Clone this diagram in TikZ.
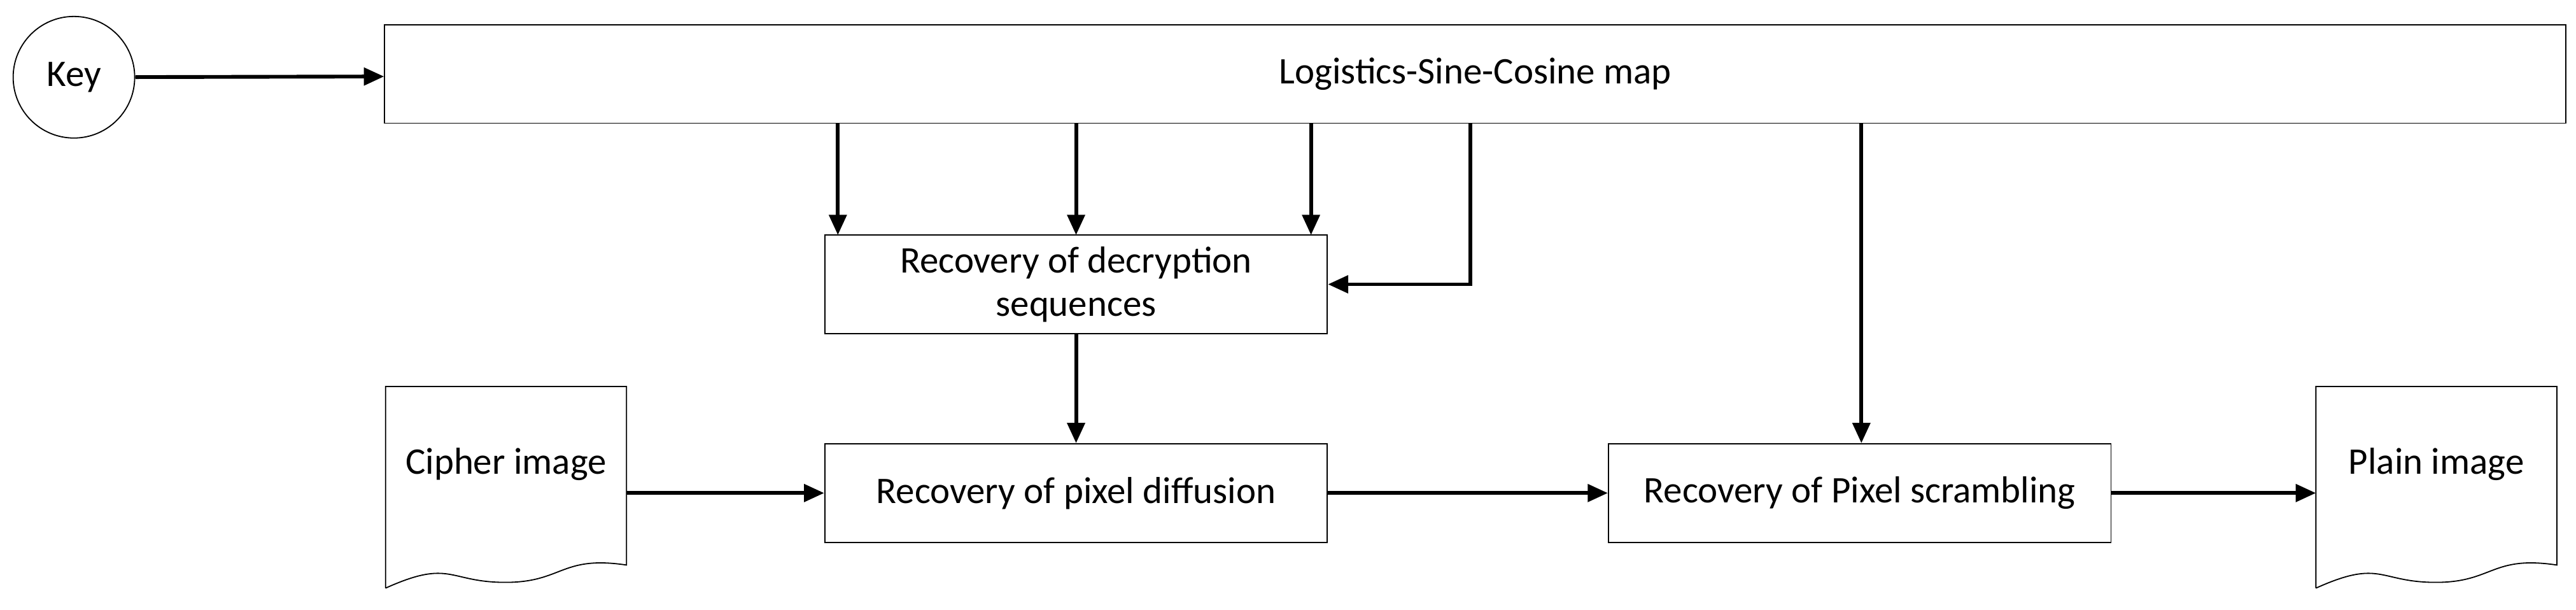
\documentclass[tikz,border=0pt]{standalone}
\usepackage{fontspec}
\setmainfont{Carlito}
\usetikzlibrary{
  arrows.meta, % for the Triangle arrow tip
  positioning, % for relative positioning
}
\tikzset{
  block/.style={ % style for the process boxes
    rectangle,draw,thin,
    minimum width=6.12cm,minimum height=1.2cm,
    align=center,inner sep=2pt,
  },
  doc/.style={ % text area of the document shapes
    rectangle,minimum width=2.92cm,minimum height=2.3cm,
    text depth=0pt,
  },
  conn/.style={ % style for the connections
    -{Triangle[length=7pt,width=6pt]},
    line width=1.3pt,
  },
}
\begin{document}
\begin{tikzpicture}[x=0.02cm,y=-0.02cm,font=\fontsize{13}{15}\selectfont]
	\useasboundingbox (0,0) rectangle (1568,371);

	\node[circle,draw,thin,minimum size=1.48cm] (key) at (45,47) {Key};
	\node[rectangle,draw,thin,minimum width=26.56cm,minimum height=1.2cm] (lsc) at (898,45) {Logistics-Sine-Cosine map};

	\node[block] (seq) at (655,173) {Recovery of decryption\\sequences};
	\node[block] (diff) at (655,300) {Recovery of pixel diffusion};
	\node[block] (scr) at (1132,300) {Recovery of Pixel scrambling};

	\node[doc] (cipher) at (308,293) {};
	\node[doc] (plain) at (1483,293) {};
	% document outlines with wavy bottom
	\foreach \d/\t in {cipher/Cipher image,plain/Plain image}{
		\draw[thin] ([yshift=-4pt]\d.south west) -- (\d.north west) -- (\d.north east) -- ([yshift=4pt]\d.south east)
			.. controls +(-40,-6) and +(35,0) .. ([xshift=1.46cm,yshift=-2pt]\d.south west)
			.. controls +(-35,0) and +(40,-18) .. ([yshift=-4pt]\d.south west);
		\node[anchor=center] at ([yshift=6pt]\d.center) {\t};
	}

	\draw[conn] (key) -- (lsc);
	\foreach \x in {510,655,798}
		\draw[conn] (\x,75) -- (\x,143);
	\coordinate (bend) at (895,173);
	\draw[conn] (895,75) -- (bend) -- (seq.east);
	\draw[conn] (seq) -- (diff);
	\coordinate (tap) at (1133,75);
	\draw[conn] (tap) -- (tap |- scr.north);
	\draw[conn] (cipher.east |- diff.west) -- (diff.west);
	\draw[conn] (diff) -- (scr);
	\draw[conn] (scr.east) -- (plain.west |- scr.east);
\end{tikzpicture}
\end{document}
